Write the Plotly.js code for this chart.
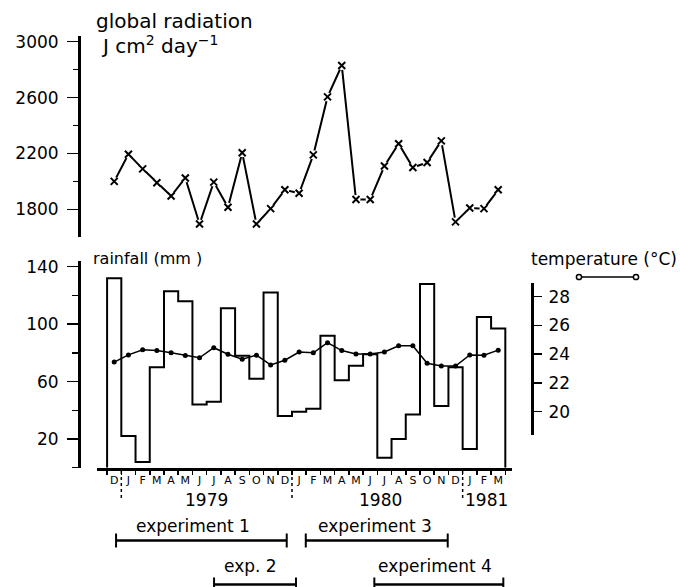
<!DOCTYPE html>
<html>
<head>
<meta charset="utf-8">
<script src="https://cdn.plot.ly/plotly-3.0.1.min.js"></script>
<style>html,body{margin:0;padding:0;background:#fff;}#chart{width:680px;height:587px;}</style>
</head>
<body>
<div id="chart"></div>
<script>
// ---- data ----
const months = ['D','J','F','M','A','M','J','J','A','S','O','N','D','J','F','M','A','M','J','J','A','S','O','N','D','J','F','M'];
const radiation = [2000,2195,2090,1990,1895,2025,1695,1995,1815,2205,1695,1805,1940,1915,2190,2605,2830,1870,1870,2110,2270,2100,2135,2290,1710,1810,1805,1940];
const rainfall = [132,22,4,70,123,116,44,46,111,78,62,122,36,39,41,92,61,71,79,7,20,37,128,43,70,13,105,97];
const temperature = [23.45,23.95,24.3,24.25,24.1,23.9,23.75,24.45,24.0,23.65,23.93,23.25,23.58,24.15,24.1,24.8,24.25,24.02,24.02,24.15,24.58,24.58,23.37,23.18,23.18,23.95,23.93,24.28];
const years = ['1979','1980','1981'];
const yearPos = [6.5, 18.7, 26.2];
const yearBreaks = [0.5, 12.5, 24.5];
const expNames = ['experiment 1','exp. 2','experiment 3','experiment 4'];
const expStart = [0.13, 7.02, 13.47, 18.29];
const expEnd = [12.13, 12.78, 23.45, 27.36];
const expRow = [0, 1, 0, 1];

// ---- helpers ----
const W = 680, H = 587;
const px = v => v / W;
const py = v => 1 - v / H;
const idx = months.map((m, i) => i);
const FONT = 'DejaVu Sans';

// step outline for rainfall
const stepX = [-0.5], stepY = [0];
rainfall.forEach((v, i) => { stepX.push(i - 0.5); stepY.push(v); });
stepX.push(rainfall.length - 0.5); stepY.push(rainfall[rainfall.length - 1]);
stepX.push(rainfall.length - 0.5); stepY.push(0);

const traces = [
  {x: stepX, y: stepY, xaxis: 'x', yaxis: 'y2', mode: 'lines', line: {shape: 'hv', color: '#000', width: 2}, hoverinfo: 'skip'},
  {x: idx, y: temperature, xaxis: 'x', yaxis: 'y3', mode: 'lines+markers', line: {color: '#000', width: 1.5}, marker: {symbol: 'circle', size: 5, color: '#000'}},
  {x: idx, y: radiation, xaxis: 'x', yaxis: 'y', mode: 'lines+markers', line: {color: '#000', width: 2}, marker: {symbol: 'circle', size: 9, color: '#fff'}},
  {x: idx, y: radiation, xaxis: 'x', yaxis: 'y', mode: 'markers', marker: {symbol: 'x-thin', size: 7, line: {color: '#000', width: 2}}}
];

const shapes = [];
yearBreaks.forEach(b => {
  shapes.push({type: 'line', xref: 'x', yref: 'paper', x0: b, x1: b, y0: py(471), y1: py(498), line: {color: '#000', width: 1.5, dash: '3px,3px'}});
});
const rowBarY = [540.5, 584.5];
const rowTextY = [526, 566];
const textShift = [-8, -5, -2, -4];
expNames.forEach((n, i) => {
  const yb = rowBarY[expRow[i]];
  shapes.push({type: 'line', xref: 'x', yref: 'paper', x0: expStart[i], x1: expEnd[i], y0: py(yb), y1: py(yb), line: {color: '#000', width: 2.5}});
  [expStart[i], expEnd[i]].forEach(e => {
    shapes.push({type: 'line', xref: 'x', yref: 'paper', x0: e, x1: e, y0: py(yb - 7), y1: py(yb + 7), line: {color: '#000', width: 2}});
  });
});
// temperature legend symbol
shapes.push({type: 'line', xref: 'paper', yref: 'paper', x0: px(579), x1: px(636), y0: py(277), y1: py(277), line: {color: '#000', width: 1.5}});
[579, 636].forEach(c => {
  shapes.push({type: 'circle', xref: 'paper', yref: 'paper', x0: px(c - 2.6), x1: px(c + 2.6), y0: py(277 + 2.6), y1: py(277 - 2.6), fillcolor: '#fff', line: {color: '#000', width: 1.5}});
});

const annotations = [];
years.forEach((y, i) => {
  annotations.push({text: y, xref: 'x', yref: 'paper', x: yearPos[i], y: py(500), xanchor: 'center', yanchor: 'middle', showarrow: false, font: {family: FONT, size: 17, color: '#000'}});
});
expNames.forEach((n, i) => {
  annotations.push({text: n, xref: 'x', yref: 'paper', x: (expStart[i] + expEnd[i]) / 2, xshift: textShift[i], y: py(rowTextY[expRow[i]]), xanchor: 'center', yanchor: 'middle', showarrow: false, font: {family: FONT, size: 17, color: '#000'}});
});
annotations.push({text: 'global radiation', xref: 'paper', yref: 'paper', x: px(94), y: py(21), xanchor: 'left', yanchor: 'middle', showarrow: false, font: {family: FONT, size: 20, color: '#000'}});
annotations.push({text: 'J cm<sup>2</sup> day<sup>−1</sup>', xref: 'paper', yref: 'paper', x: px(99), y: py(45), xanchor: 'left', yanchor: 'middle', showarrow: false, font: {family: FONT, size: 20, color: '#000'}});
annotations.push({text: 'rainfall (mm )', xref: 'paper', yref: 'paper', x: px(91), y: py(258), xanchor: 'left', yanchor: 'middle', showarrow: false, font: {family: FONT, size: 16, color: '#000'}});
annotations.push({text: 'temperature (°C)', xref: 'paper', yref: 'paper', x: px(529), y: py(259), xanchor: 'left', yanchor: 'middle', showarrow: false, font: {family: FONT, size: 17, color: '#000'}});

const layout = {
  width: W, height: H,
  margin: {l: 0, r: 0, t: 0, b: 0},
  paper_bgcolor: '#fff', plot_bgcolor: 'rgba(0,0,0,0)',
  showlegend: false,
  font: {family: FONT, color: '#000'},
  xaxis: {
    domain: [px(97), px(512)], range: [-1.21, 27.97], anchor: 'y2',
    showline: true, linewidth: 3, linecolor: '#000', showgrid: false, zeroline: false,
    tickmode: 'array', tickvals: idx, ticktext: months, ticks: '', tickfont: {family: FONT, size: 11},
    minor: {tick0: 0.5, dtick: 1, ticks: 'outside', ticklen: 4, tickwidth: 1.5, tickcolor: '#000', showgrid: false}
  },
  yaxis: {
    domain: [py(237), py(36)], range: [1602, 3041], anchor: 'free', position: px(79),
    showline: true, linewidth: 3, linecolor: '#000', showgrid: false, zeroline: false,
    tick0: 1800, dtick: 400, ticks: 'outside', ticklen: 11, tickwidth: 1.5, tickcolor: '#000',
    ticklabelstandoff: 5,
    tickfont: {family: FONT, size: 17},
    minor: {tick0: 2000, dtick: 400, ticks: 'outside', ticklen: 5, tickwidth: 1.5, tickcolor: '#000', showgrid: false}
  },
  yaxis2: {
    domain: [py(467.7), py(260.7)], range: [0, 144.2], anchor: 'free', position: px(79),
    showline: true, linewidth: 3, linecolor: '#000', showgrid: false, zeroline: false,
    tick0: 20, dtick: 40, ticks: 'outside', ticklen: 11, tickwidth: 1.5, tickcolor: '#000',
    ticklabelstandoff: 5,
    tickfont: {family: FONT, size: 17},
    minor: {tick0: 0, dtick: 40, ticks: 'outside', ticklen: 6, tickwidth: 1.5, tickcolor: '#000', showgrid: false}
  },
  yaxis3: {
    domain: [py(435), py(283)], range: [18.38, 28.95], anchor: 'free', position: px(532), side: 'right',
    showline: true, linewidth: 3, linecolor: '#000', showgrid: false, zeroline: false,
    tickmode: 'array', tickvals: [20, 22, 24, 26, 28], ticks: 'outside', ticklen: 8, tickwidth: 1.5, tickcolor: '#000',
    ticklabelstandoff: 3,
    tickfont: {family: FONT, size: 17}
  },
  shapes: shapes,
  annotations: annotations
};

Plotly.newPlot('chart', traces, layout, {staticPlot: true, displayModeBar: false});
</script>
</body>
</html>
